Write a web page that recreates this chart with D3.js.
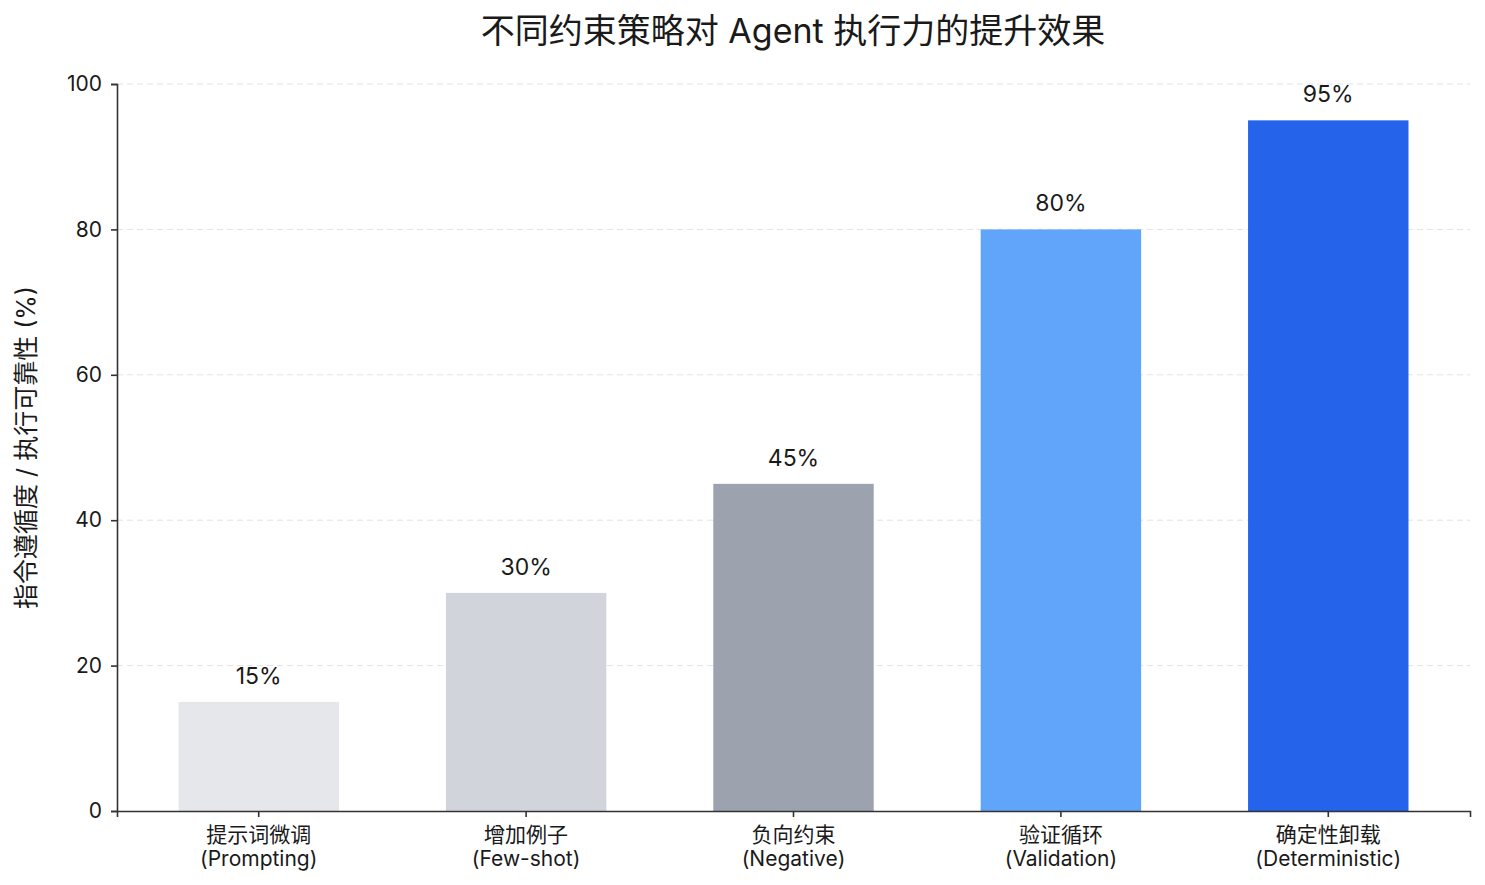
<!DOCTYPE html>
<html>
<head>
<meta charset="utf-8">
<script src="https://cdn.jsdelivr.net/npm/d3@7"></script>
<style>
  body { margin: 0; background: #fff; }
  text { font-family: Inter, "Noto Sans CJK JP", "Noto Sans CJK SC", sans-serif; fill: #1a1a1a; }
</style>
</head>
<body>
<div id="chart"></div>
<script>
// chart data
var categories = ["提示词微调", "增加例子", "负向约束", "验证循环", "确定性卸载"];
var subLabels = ["(Prompting)", "(Few-shot)", "(Negative)", "(Validation)", "(Deterministic)"];
var reliability = [15, 30, 45, 80, 95];
var barColors = ["#e5e7eb", "#d1d5db", "#9ca3af", "#60a5fa", "#2563eb"];
var yTicks = [0, 20, 40, 60, 80, 100];

var svgWidth = 1485;
var svgHeight = 885;

var chartMargin = {
  top: 84,
  right: 15,
  bottom: 74,
  left: 117
};

var chartWidth = svgWidth - chartMargin.left - chartMargin.right;
var chartHeight = svgHeight - chartMargin.top - chartMargin.bottom;

var svg = d3.select("#chart")
  .append("svg")
  .attr("width", svgWidth)
  .attr("height", svgHeight);

// title
svg.append("text")
  .attr("x", 793)
  .attr("y", 43)
  .attr("text-anchor", "middle")
  .style("font-size", "34px")
  .text("不同约束策略对 Agent 执行力的提升效果");

var chartGroup = svg.append("g")
  .attr("transform", `translate(${chartMargin.left}, ${chartMargin.top})`);

var xBandScale = d3.scaleBand()
  .domain(categories)
  .range([0, chartWidth])
  .paddingInner(0.4)
  .paddingOuter(0.23);

var yLinearScale = d3.scaleLinear()
  .domain([0, 100])
  .range([chartHeight, 0]);

// dashed grid
chartGroup.selectAll(".grid")
  .data(yTicks.filter(d => d > 0))
  .enter()
  .append("line")
  .attr("class", "grid")
  .attr("x1", 0)
  .attr("x2", chartWidth)
  .attr("y1", d => yLinearScale(d))
  .attr("y2", d => yLinearScale(d))
  .attr("stroke", "#e3e3e3")
  .attr("stroke-width", 1)
  .attr("stroke-dasharray", "6,4");

// bars
chartGroup.selectAll(".bar")
  .data(reliability)
  .enter()
  .append("rect")
  .attr("class", "bar")
  .attr("x", (d, i) => xBandScale(categories[i]))
  .attr("y", d => yLinearScale(d))
  .attr("width", xBandScale.bandwidth())
  .attr("height", d => chartHeight - yLinearScale(d))
  .attr("fill", (d, i) => barColors[i]);

// value labels
chartGroup.selectAll(".val")
  .data(reliability)
  .enter()
  .append("text")
  .attr("class", "val")
  .attr("x", (d, i) => xBandScale(categories[i]) + xBandScale.bandwidth() / 2)
  .attr("y", d => yLinearScale(d) - 18)
  .attr("text-anchor", "middle")
  .style("font-size", "23px")
  .text(d => d + "%");

// axes
var leftAxis = d3.axisLeft(yLinearScale).tickValues(yTicks).tickSizeOuter(0).tickSize(6).tickPadding(9);
var bottomAxis = d3.axisBottom(xBandScale).tickSizeOuter(0).tickSize(6).tickFormat("");

var yAxisG = chartGroup.append("g").call(leftAxis);
yAxisG.select(".domain").attr("stroke", "#333").attr("stroke-width", 1.6);
yAxisG.selectAll(".tick line").attr("stroke", "#333").attr("stroke-width", 1.6);
yAxisG.selectAll(".tick text")
  .style("font-size", "21px")
  .style("font-family", "Inter, sans-serif")
  .attr("fill", "#1a1a1a");

var xAxisG = chartGroup.append("g")
  .attr("transform", `translate(0, ${chartHeight})`)
  .call(bottomAxis);
xAxisG.select(".domain").attr("stroke", "#333").attr("stroke-width", 1.6);
xAxisG.selectAll(".tick line").attr("stroke", "#333").attr("stroke-width", 1.6);

// two-line category labels
xAxisG.selectAll(".tick").each(function(d, i) {
  var t = d3.select(this).append("text")
    .attr("text-anchor", "middle")
    .style("font-size", "21px")
    .attr("fill", "#1a1a1a");
  t.append("tspan").attr("x", 0).attr("y", 31).text(categories[i]);
  t.append("tspan").attr("x", 0).attr("y", 55).text(subLabels[i]);
});

// y axis title
svg.append("text")
  .attr("transform", `translate(35, ${chartMargin.top + chartHeight / 2}) rotate(-90)`)
  .attr("text-anchor", "middle")
  .style("font-size", "25px")
  .text("指令遵循度 / 执行可靠性 (%)");
</script>
</body>
</html>
